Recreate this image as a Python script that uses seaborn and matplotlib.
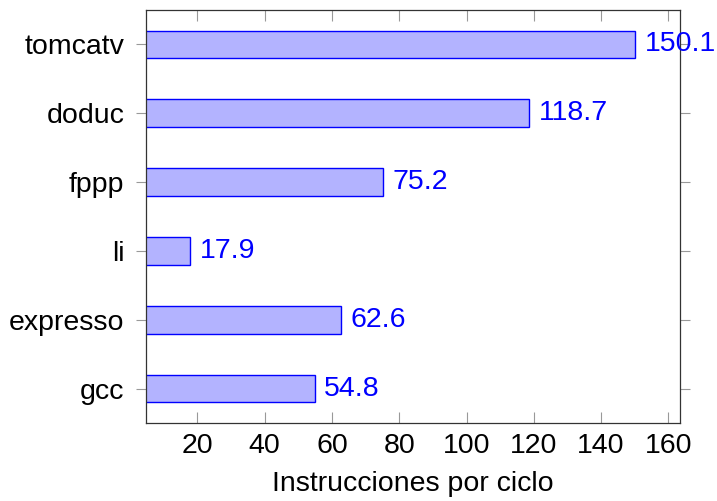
import matplotlib
matplotlib.use('Agg')
import matplotlib.pyplot as plt
import seaborn as sns
import pandas as pd

# benchmarks listed top to bottom
programs = ['tomcatv', 'doduc', 'fppp', 'li', 'expresso', 'gcc']
ipc = [150.1, 118.7, 75.2, 17.9, 62.6, 54.8]
xticks = [20, 40, 60, 80, 100, 120, 140, 160]

df = pd.DataFrame({'programa': programs, 'ipc': ipc})

sns.set_style('white')
plt.rcParams['font.family'] = ['Liberation Sans', 'DejaVu Sans']
plt.rcParams['font.size'] = 20.5
plt.rcParams['text.color'] = 'black'
plt.rcParams['axes.labelcolor'] = 'black'
plt.rcParams['xtick.labelcolor'] = 'black'
plt.rcParams['ytick.labelcolor'] = 'black'

FS = 20.5

fig = plt.figure(figsize=(7.17, 5.01), dpi=100)
ax = fig.add_axes([0.2036, 0.1557, 0.7441, 0.8243])

sns.barplot(data=df, x='ipc', y='programa', order=programs, orient='h',
            color='#b3b3ff', saturation=1, edgecolor='blue', linewidth=1,
            width=0.4, ax=ax)

ax.bar_label(ax.containers[0], fmt='%.1f', padding=7, color='blue',
             fontsize=FS)

ax.set_xlim(4.7, 163.3)
ax.set_ylim(5.5, -0.5)
ax.set_xticks(xticks)
ax.set_xlabel('Instrucciones por ciclo', fontsize=FS, labelpad=9)
ax.set_ylabel('')

for s in ax.spines.values():
    s.set_visible(True)
    s.set_color('#333333')
    s.set_linewidth(0.9)

ax.tick_params(axis='x', direction='in', top=True, bottom=True, length=8,
               color='#999999', labelsize=FS, pad=7)
ax.tick_params(axis='y', direction='out', left=True, right=True, length=7,
               color='#999999', labelsize=FS, pad=8.5)

fig.savefig('out.png', dpi=100)
